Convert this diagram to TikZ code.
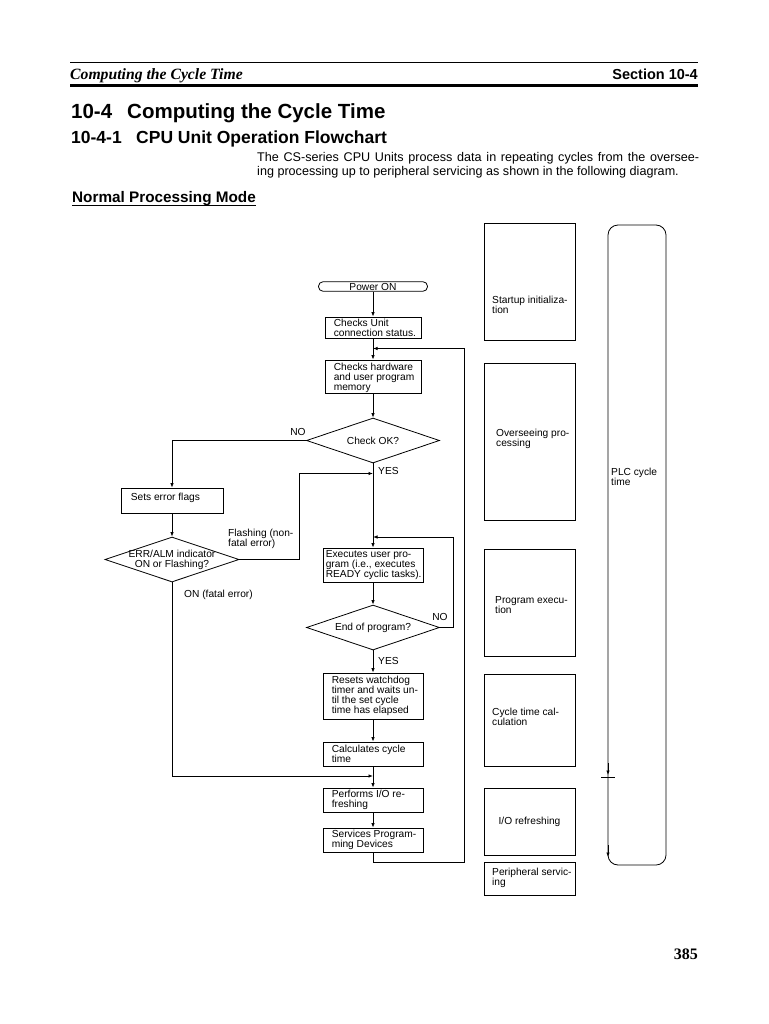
\documentclass[tikz,border=0pt]{standalone}
\usepackage{fontspec}
\setmainfont{Liberation Sans}
\newfontfamily\tnr{Liberation Serif}
\usetikzlibrary{arrows.meta,shapes.geometric,calc}
\begin{document}
\begin{tikzpicture}[x=1pt,y=-1pt,
  fc/.style={font=\fontsize{10.2}{10}\selectfont},
  box/.style={draw,line width=0.8pt,inner sep=0pt},
  rbox/.style={draw,line width=1pt,inner sep=0pt,minimum width=91pt},
  dia/.style={draw,diamond,line width=0.8pt,inner sep=0pt},
  txt/.style={fc,align=left,inner sep=0pt},
  lbl/.style={fc,inner sep=0pt},
  ln/.style={line width=0.8pt},
  arr/.style={line width=0.8pt,-{Latex[length=4.5pt,width=3.5pt]}},
  hd/.style={anchor=base west,inner sep=0pt}
]
\useasboundingbox[fill=white] (0,0) rectangle (768,1024);

% ---------- page header ----------
\draw[line width=0.6pt] (70,62) -- (698,62);
\node[hd,font=\tnr\bfseries\itshape\fontsize{15.7}{18}\selectfont] (hl) at (70,80) {Computing the Cycle Time};
\node[anchor=base east,inner sep=0pt,font=\bfseries\fontsize{14.5}{17}\selectfont] (hr) at (698,80) {Section 10-4};
\draw[line width=3pt] (70,85.5) -- (698,85.5);
\node[hd,font=\bfseries\fontsize{20.5}{24}\selectfont] (t1n) at (71,119) {10-4};
\node[hd,font=\bfseries\fontsize{20.5}{24}\selectfont] (t1) at (127,119) {Computing the Cycle Time};
\node[hd,font=\bfseries\fontsize{17.5}{20}\selectfont] (t2n) at (71,144) {10-4-1};
\node[hd,font=\bfseries\fontsize{17.5}{20}\selectfont] (t2) at (136,144) {CPU Unit Operation Flowchart};
\node[hd,font=\fontsize{12.6}{14}\selectfont] (p1) at (257,162) {\makebox[442pt][s]{The CS-series CPU Units process data in repeating cycles from the oversee-}};
\node[hd,font=\fontsize{12.6}{14}\selectfont] (p2) at (257,176) {ing processing up to peripheral servicing as shown in the following diagram.};
\node[hd,font=\bfseries\fontsize{15.3}{17}\selectfont] (nm) at (72,203) {Normal Processing Mode};
\draw[line width=1pt] ($(nm.base west)+(0,2.8)$) -- ($(nm.base east)+(0,2.8)$);
\node[anchor=base east,inner sep=0pt,font=\tnr\bfseries\fontsize{16}{18}\selectfont] (pg) at (698,959) {385};

% ---------- flowchart ----------
\node[draw,line width=0.8pt,rounded corners=4.5pt,minimum width=109pt,minimum height=9.5pt,inner sep=0pt,fc] (pw) at (373,286.5) {Power ON};

\node[box,minimum width=96pt,minimum height=21pt] (cu) at (373,327.5) {};
\node[txt,anchor=west] (cut) at ([xshift=9pt]cu.west) {Checks Unit\\connection status.};

\node[box,minimum width=96pt,minimum height=33pt] (hw) at (373,376.5) {};
\node[txt,anchor=west] (hwt) at ([xshift=9pt,yshift=-1.5pt]hw.west) {Checks hardware\\and user program\\memory};

\node[dia,minimum width=133pt,minimum height=45pt] (chk) at (373,440.5) {};
\node[lbl] (chkt) at (chk) {Check OK?};

\node[box,minimum width=102pt,minimum height=25pt] (sef) at (172,500.5) {};
\node[txt,anchor=west] (seft) at ([xshift=10pt,yshift=3pt]sef.west) {Sets error flags};

\node[dia,minimum width=134pt,minimum height=45pt] (err) at (172,559.5) {};
\node[lbl,align=center] (errt) at (172,559.5) {ERR/ALM indicator\\ON or Flashing?};

\node[box,minimum width=100pt,minimum height=34pt] (ex) at (373,565) {};
\node[txt,anchor=west] (ext) at ([xshift=3pt]ex.west) {Executes user pro-\\gram (i.e., executes\\READY cyclic tasks).};

\node[dia,minimum width=133pt,minimum height=45pt] (eop) at (373,627.5) {};
\node[lbl] (eopt) at (eop) {End of program?};

\node[box,minimum width=100pt,minimum height=46pt] (rs) at (373,696) {};
\node[txt,anchor=west] (rst) at ([xshift=9pt]rs.west) {Resets watchdog\\timer and waits un-\\til the set cycle\\time has elapsed};

\node[box,minimum width=100pt,minimum height=24pt] (ct) at (373,754) {};
\node[txt,anchor=west] (ctt) at ([xshift=9pt]ct.west) {Calculates cycle\\time};

\node[box,minimum width=100pt,minimum height=24pt] (io) at (373,800) {};
\node[txt,anchor=west] (iot) at ([xshift=9pt]io.west) {Performs I/O re-\\freshing};

\node[box,minimum width=100pt,minimum height=24pt] (sv) at (373,840) {};
\node[txt,anchor=west] (svt) at ([xshift=9pt]sv.west) {Services Program-\\ming Devices};

% junction points on the main line
\coordinate (j0) at (373,348.5);
\coordinate (j1) at (373,473.5);
\coordinate (j2) at (373,537);
\coordinate (j3) at (373,776);

% connectors
\draw[arr] (pw.south) -- (cu.north);
\draw[arr] (cu.south) -- (hw.north);
\draw[arr] (hw.south) -- (chk.north);
\draw[arr] (chk.west) -| (sef.north);
\draw[arr] (sef.south) -- (err.north);
\draw[arr] (err.east) -| (299,473.5) -- (j1);
\draw[arr] (chk.south) -- (ex.north);
\draw[arr] (err.south) |- (j3);
\draw[arr] (ex.south) -- (eop.north);
\draw[arr] (eop.east) -| (453,537) -- (j2);
\draw[arr] (eop.south) -- (rs.north);
\draw[arr] (rs.south) -- (ct.north);
\draw[arr] (ct.south) -- (io.north);
\draw[arr] (io.south) -- (sv.north);
\draw[arr] (sv.south) -- (373,862) -| (464,348.5) -- (j0);

% labels
\node[lbl] (no1) at (298,432) {NO};
\node[lbl,anchor=west] (yes1) at (378,470.5) {YES};
\node[lbl,anchor=west,align=left] (fl) at (228,538.5) {Flashing (non-\\fatal error)};
\node[lbl,anchor=west] (onf) at (184,594.5) {ON (fatal error)};
\node[lbl] (no2) at (440,617) {NO};
\node[lbl,anchor=west] (yes2) at (378,660.5) {YES};

% ---------- right column ----------
\node[rbox,minimum height=116pt] (r1) at (529.5,282) {};
\node[txt,anchor=west] (r1t) at (492,305) {Startup initializa-\\tion};
\node[rbox,minimum height=157pt] (r2) at (529.5,441.5) {};
\node[txt,anchor=west] (r2t) at (496,438.5) {Overseeing pro-\\cessing};
\node[rbox,minimum height=107pt] (r3) at (529.5,602.5) {};
\node[txt,anchor=west] (r3t) at (495,605) {Program execu-\\tion};
\node[rbox,minimum height=92pt] (r4) at (529.5,720) {};
\node[txt,anchor=west] (r4t) at (492,716.5) {Cycle time cal-\\culation};
\node[rbox,minimum height=67pt] (r5) at (529.5,821.5) {};
\node[lbl] (r5t) at (529.5,821.5) {I/O refreshing};
\node[rbox,minimum height=33pt] (r6) at (529.5,878.5) {};
\node[txt,anchor=west] (r6t) at (492,878) {Peripheral servic-\\ing};

% PLC cycle time loop
\node[draw,line width=0.8pt,rounded corners=10pt,minimum width=58pt,minimum height=640pt,inner sep=0pt] (plc) at (637,545) {};
\node[txt,anchor=west] (plct) at (611,477) {PLC cycle\\time};
\draw[ln] (601,777) -- (615,777);
\draw[arr] (608,763) -- (608,775);
\draw[arr] (608,845) -- (608,857);
\end{tikzpicture}
\end{document}
